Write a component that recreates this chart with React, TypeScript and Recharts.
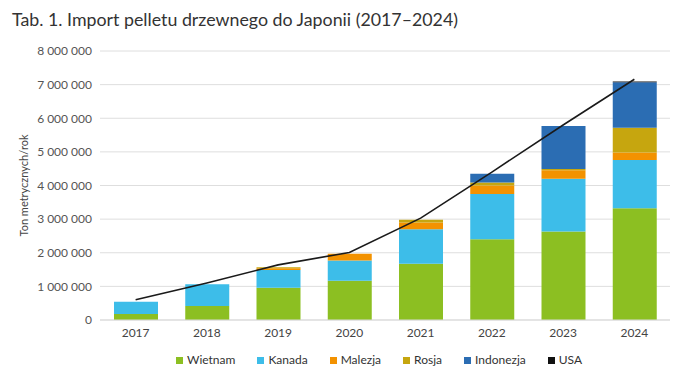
import React from 'react';
import { ComposedChart, Bar, Line, XAxis, YAxis, CartesianGrid, Legend, Label } from 'recharts';

const years = ['2017', '2018', '2019', '2020', '2021', '2022', '2023', '2024'];
const wietnam = [180000, 420000, 960000, 1170000, 1670000, 2400000, 2630000, 3320000];
const kanada = [360000, 640000, 530000, 600000, 1030000, 1350000, 1570000, 1440000];
const malezja = [0, 0, 50000, 200000, 200000, 250000, 250000, 220000];
const rosja = [0, 0, 30000, 0, 80000, 90000, 40000, 740000];
const indonezja = [0, 0, 0, 0, 0, 260000, 1280000, 1350000];
const usa = [0, 0, 0, 0, 0, 0, 0, 20000];
const trend = [600000, 1100000, 1640000, 2010000, 3030000, 4400000, 5800000, 7160000];
const yTicks = [0, 1000000, 2000000, 3000000, 4000000, 5000000, 6000000, 7000000, 8000000];
const seriesOrder = ['Wietnam', 'Kanada', 'Malezja', 'Rosja', 'Indonezja', 'USA'];

const data = years.map((y, i) => ({
  year: y,
  Wietnam: wietnam[i],
  Kanada: kanada[i],
  Malezja: malezja[i],
  Rosja: rosja[i],
  Indonezja: indonezja[i],
  USA: usa[i],
  total: trend[i],
}));

const fmt = (v: number) => String(v).replace(/\B(?=(\d{3})+(?!\d))/g, ' ');

const FONT = 'Lato, "Open Sans", sans-serif';

const LegendContent = (props: any) => {
  const payload = (props.payload || [])
    .filter((p: any) => p.type !== 'none' && seriesOrder.includes(p.value))
    .sort((a: any, b: any) => seriesOrder.indexOf(a.value) - seriesOrder.indexOf(b.value));
  return (
    <div style={{ display: 'flex', fontFamily: FONT, fontSize: 12, color: '#333', lineHeight: '16px' }}>
      {payload.map((p: any) => (
        <div key={p.value} style={{ display: 'flex', alignItems: 'center', marginRight: 22 }}>
          <span style={{ display: 'inline-block', width: 7, height: 7, background: p.color, marginRight: 4 }} />
          <span>{p.value}</span>
        </div>
      ))}
    </div>
  );
};

export default function App() {
  return (
    <div style={{ position: 'absolute', left: 0, top: 0, width: 696, height: 385, background: '#fff', fontFamily: FONT }}>
      <div style={{ position: 'absolute', left: 12, top: 8, fontSize: 17.8, color: '#333', fontFamily: FONT, whiteSpace: 'nowrap' }}>
        Tab. 1. Import pelletu drzewnego do Japonii (2017–2024)
      </div>
      <ComposedChart width={696} height={385} data={data} margin={{ top: 51, right: 26, left: 0, bottom: 35 }} barSize={44}>
        <XAxis dataKey="year" height={30} tickLine={false} axisLine={{ stroke: '#d9d9d9' }}
          tick={{ fontSize: 12, fill: '#444', fontFamily: FONT }} />
        <YAxis width={100} domain={[0, 8000000]} ticks={yTicks} tickFormatter={fmt} tickLine={false} axisLine={false}
          tick={{ fontSize: 12, fill: '#555', fontFamily: FONT }} interval={0}>
          <Label value="Ton metrycznych/rok" angle={-90} position="insideLeft" offset={24}
            style={{ textAnchor: 'middle', fontSize: 11, fill: '#444', fontFamily: FONT }} />
        </YAxis>
        <Bar dataKey="Wietnam" stackId="a" fill="#8cbf22" isAnimationActive={false} />
        <Bar dataKey="Kanada" stackId="a" fill="#3dbde9" isAnimationActive={false} />
        <Bar dataKey="Malezja" stackId="a" fill="#f39200" isAnimationActive={false} />
        <Bar dataKey="Rosja" stackId="a" fill="#c6a60f" isAnimationActive={false} />
        <Bar dataKey="Indonezja" stackId="a" fill="#2b6db3" isAnimationActive={false} />
        <Bar dataKey="USA" stackId="a" fill="#111111" isAnimationActive={false} />
        <CartesianGrid vertical={false} stroke="#dedede" />
        <Line dataKey="total" type="linear" stroke="#1a1a1a" strokeWidth={1.6} dot={false} legendType="none" isAnimationActive={false} />
        <Legend verticalAlign="middle" align="center" layout="horizontal" content={<LegendContent />}
          wrapperStyle={{ top: 352, left: 176, width: 500 }} />
      </ComposedChart>
    </div>
  );
}
